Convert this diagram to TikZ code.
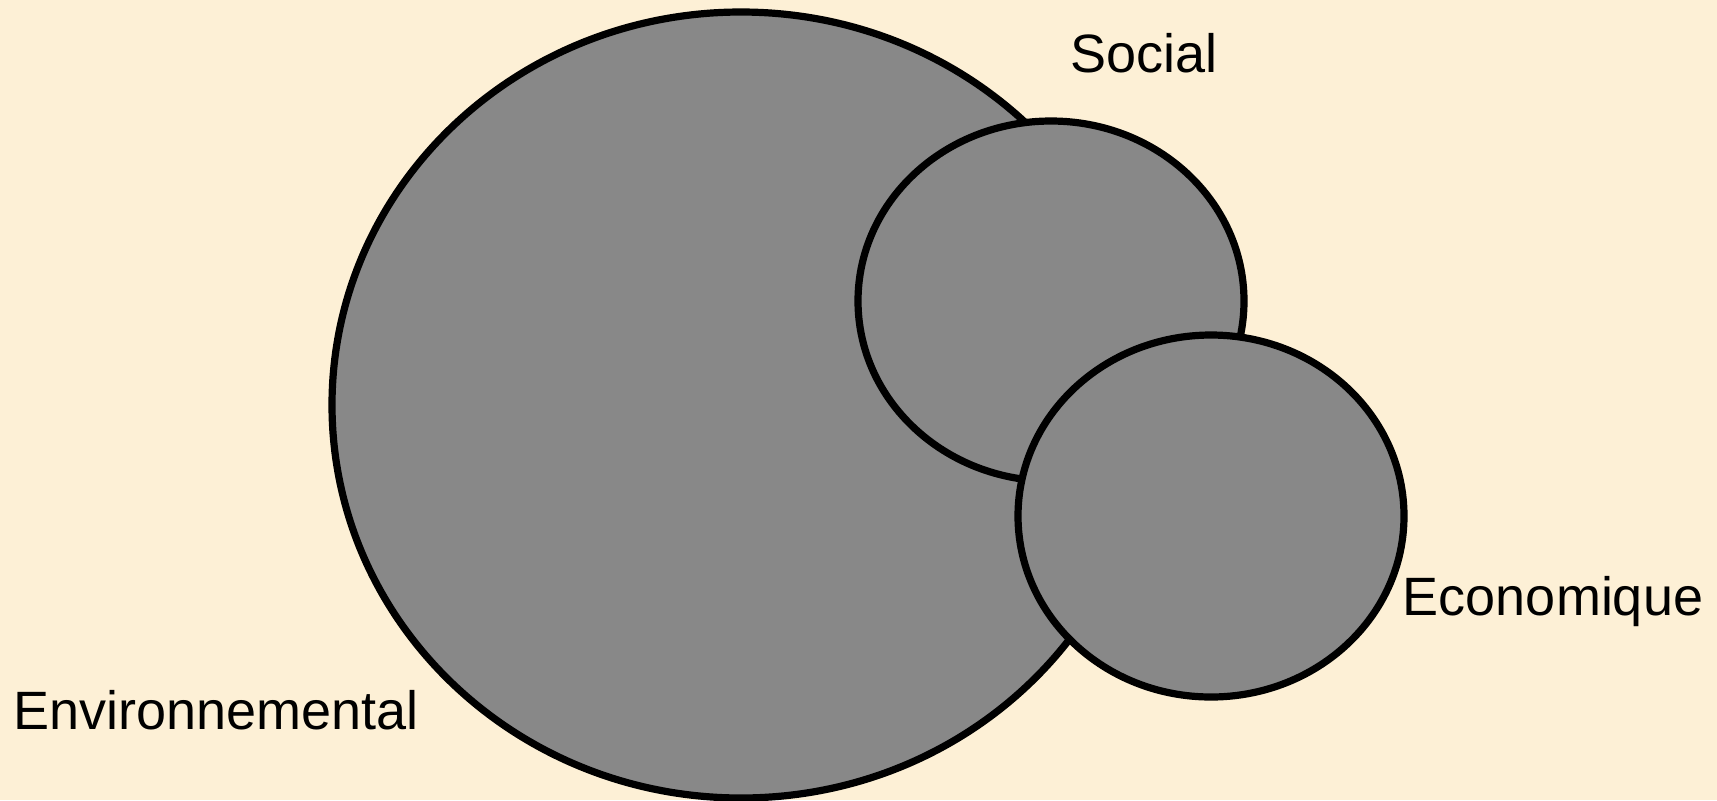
\documentclass[tikz,border=0pt]{standalone}
\usepackage{fontspec}
\setmainfont{Liberation Sans}
\usetikzlibrary{shapes.geometric}

\definecolor{paper}{RGB}{253,240,214}
\definecolor{disc}{RGB}{136,136,136}

\tikzstyle{sphere} = [ellipse, draw=black, line width=3.6pt, fill=disc, inner sep=0pt]
\tikzstyle{tag} = [font=\fontsize{27}{32}\selectfont, inner sep=0pt]

\begin{document}
\begin{tikzpicture}[x=0.5pt, y=-0.5pt]
\fill[paper] (0,0) rectangle (1717,800);
\useasboundingbox (0,0) rectangle (1717,800);
\node[sphere, minimum width=409pt, minimum height=393pt] (env) at (741,405) {};
\node[sphere, minimum width=193pt, minimum height=180pt] (soc) at (1051,301) {};
\node[sphere, minimum width=193pt, minimum height=181pt] (eco) at (1211,516) {};
\node[tag] (soclab) at (1144,53) {Social};
\node[tag] (ecolab) at (1553,602) {Economique};
\node[tag] (envlab) at (216,710) {Environnemental};
\end{tikzpicture}
\end{document}
